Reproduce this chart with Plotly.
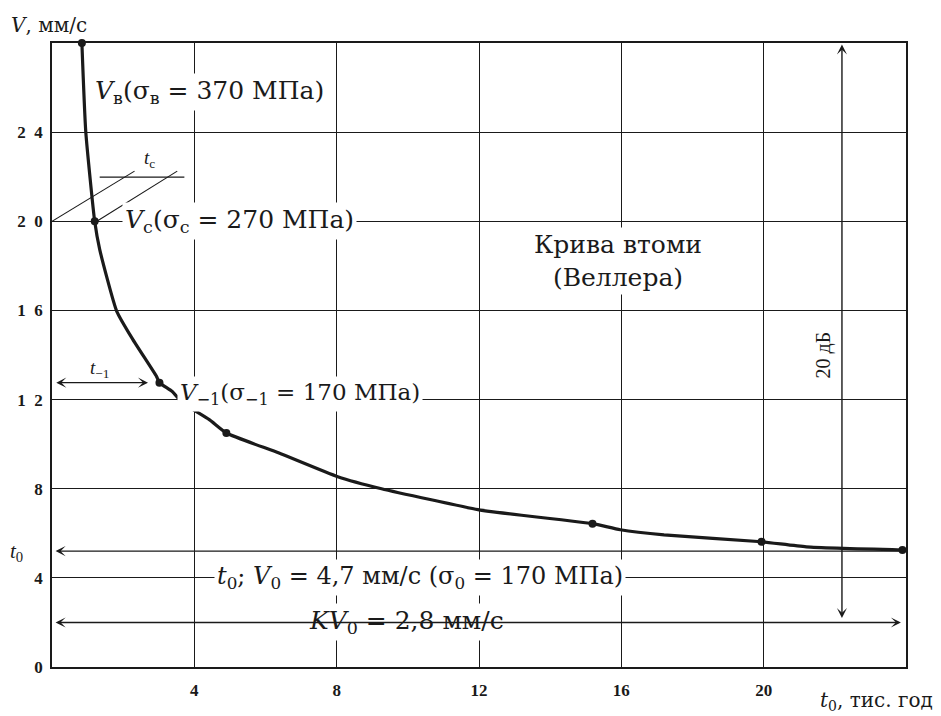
import plotly.graph_objects as go

# Fatigue (Wöhler) curve: velocity V, mm/s versus time t0, thousand hours
t_curve = [0.84, 0.95, 1.2, 1.34, 1.82, 2.27, 2.94, 3.02, 3.38, 3.66, 4.42, 4.9,
           6.38, 8.03, 9.26, 11.97, 12.34, 15.19, 15.97, 17.2, 19.94, 21.2, 23.9]
v_curve = [28.0, 24.0, 20.0, 18.74, 15.96, 14.7, 13.03, 12.76, 12.36, 11.87, 11.1, 10.5,
           9.6, 8.54, 8.0, 7.06, 6.97, 6.43, 6.16, 5.93, 5.62, 5.39, 5.25]

# Measured points on the curve
t_points = [0.84, 1.2, 3.02, 4.9, 15.19, 19.94, 23.9]
v_points = [28.0, 20.0, 12.76, 10.5, 6.43, 5.62, 5.25]

x_ticks = [4, 8, 12, 16, 20]
y_ticks = [0, 4, 8, 12, 16, 20, 24]
y_ticktext = ["0", "4", "8", "1\u20022", "1\u20026", "2\u20020", "2\u20024"]

t0_level = 5.2      # t0 reference line
kv0_level = 2.0     # KV0 reference line
db_x = 22.2         # 20 dB span marker

INK = "#1a1a1a"
SERIF = "Liberation Serif"
WIDE_SERIF = "DejaVu Serif"

fig = go.Figure()

fig.add_trace(go.Scatter(
    x=t_curve, y=v_curve, mode="lines",
    line=dict(color=INK, width=3.2, shape="spline", smoothing=0.5),
    hoverinfo="skip", showlegend=False, cliponaxis=False,
))
fig.add_trace(go.Scatter(
    x=t_points, y=v_points, mode="markers",
    marker=dict(color=INK, size=8),
    showlegend=False, cliponaxis=False,
))

ann = []


def label(x, y, text, size=22, xanchor="center", bg=True, family=WIDE_SERIF,
          ref="x", **kw):
    d = dict(x=x, y=y, xref=ref, yref=ref.replace("x", "y"), text=text, showarrow=False,
             xanchor=xanchor, yanchor="middle",
             font=dict(family=family, size=size, color=INK))
    if bg:
        d.update(bgcolor="white", borderpad=2)
    d.update(kw)
    ann.append(d)


def arrow(x, y, ax, ay, side="end", head=3):
    ann.append(dict(x=x, y=y, ax=ax, ay=ay, xref="x", yref="y", axref="x", ayref="y",
                    text="", showarrow=True, arrowhead=head, startarrowhead=head,
                    arrowside=side, arrowsize=1.2, arrowwidth=1.4, arrowcolor=INK,
                    startarrowsize=1.2))


# curve labels
label(1.12, 25.8, "<i>V</i><sub>в</sub>(σ<sub>в</sub> = 370 МПа)", size=25, xanchor="left")
label(1.96, 20.0, "<i>V</i><sub>c</sub>(σ<sub>c</sub> = 270 МПа)", size=25, xanchor="left")
label(3.52, 12.25, "<i>V</i><sub>−1</sub>(σ<sub>−1</sub> = 170 МПа)", size=23, xanchor="left")
label(15.9, 18.2, "Крива втоми<br>(Веллера)", size=25)
label(10.35, 4.0, "<i>t</i><sub>0</sub>; <i>V</i><sub>0</sub> = 4,7 мм/с (σ<sub>0</sub> = 170 МПа)",
      size=24)
label(7.13, 2.0, "<i>KV</i><sub>0</sub> = 2,8 мм/с", size=25, xanchor="left")
label(21.68, 14.0, "20 дБ", size=20, textangle=-90, bg=False, family=SERIF)
label(2.74, 22.8, "<i>t</i><sub>c</sub>", size=19, bg=False, family=SERIF)
label(1.34, 13.35, "<i>t</i><sub>−1</sub>", size=19, bg=False, family=SERIF)

# labels outside the plotting area are placed in paper coordinates
label(-0.042, 0.184, "<i>t</i><sub>0</sub>", size=21, bg=False, family=SERIF, ref="paper")
label(-0.05, 1.029, "<i>V</i>, мм/с", size=20, xanchor="left", bg=False, ref="paper")
label(1.034, -0.055, "<i>t</i><sub>0</sub>, тис. год", size=20, xanchor="right", bg=False,
      ref="paper")

# dimension arrows
arrow(0.1, t0_level, 24.0, t0_level, side="end")
arrow(0.1, kv0_level, 23.9, kv0_level, side="end+start")
arrow(db_x, 2.2, db_x, 28.0, side="end+start")
arrow(0.12, 12.76, 2.74, 12.76, side="end+start")

shapes = [
    # t_c construction lines
    dict(type="line", x0=0.0, y0=20.0, x1=2.32, y1=22.25),
    dict(type="line", x0=1.26, y0=20.0, x1=3.52, y1=22.25),
    dict(type="line", x0=1.34, y0=21.98, x1=3.72, y1=21.98),
]
for s in shapes:
    s.update(xref="x", yref="y", line=dict(color=INK, width=1.1), layer="below")

fig.update_layout(
    width=941, height=716,
    margin=dict(l=52, r=35, t=43, b=49),
    paper_bgcolor="white", plot_bgcolor="white",
    annotations=ann, shapes=shapes,
    xaxis=dict(range=[0, 24], tickvals=x_ticks, showgrid=True, gridcolor=INK, gridwidth=1.4,
               zeroline=False, showline=True, linecolor=INK, linewidth=1.6, mirror=True,
               ticks="", ticklabelstandoff=7,
               tickfont=dict(family=SERIF, size=17, color=INK, weight="bold")),
    yaxis=dict(range=[0, 28], tickvals=y_ticks, ticktext=y_ticktext, showgrid=True,
               gridcolor=INK, gridwidth=1.4, zeroline=False, showline=True, linecolor=INK,
               linewidth=1.6, mirror=True, ticks="", ticklabelstandoff=4,
               tickfont=dict(family=SERIF, size=17, color=INK, weight="bold")),
)

fig.write_html("out.html")
